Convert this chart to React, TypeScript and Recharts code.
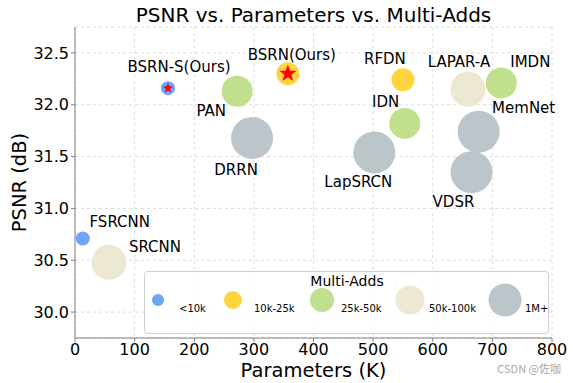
import React from 'react';
import { ScatterChart, Scatter, XAxis, YAxis, CartesianGrid, Label } from 'recharts';

const models = ['FSRCNN', 'SRCNN', 'BSRN-S(Ours)', 'PAN', 'DRRN', 'BSRN(Ours)', 'LapSRCN', 'RFDN', 'IDN', 'LAPAR-A', 'VDSR', 'MemNet', 'IMDN'];
const params = [13, 57, 156, 272, 297, 357, 502, 550, 553, 659, 665, 677, 715];
const psnr = [30.71, 30.48, 32.16, 32.13, 31.68, 32.3, 31.54, 32.24, 31.82, 32.15, 31.35, 31.74, 32.21];
const multiAdds = ['<10k', '50k-100k', '<10k', '25k-50k', '1M+', '10k-25k', '1M+', '10k-25k', '25k-50k', '50k-100k', '1M+', '1M+', '25k-50k'];
const groups = ['<10k', '10k-25k', '25k-50k', '50k-100k', '1M+'];
const xTicks = [0, 100, 200, 300, 400, 500, 600, 700, 800];
const yTicks = [30, 30.5, 31, 31.5, 32, 32.5];

const FONT = '"DejaVu Sans", sans-serif';

const colors: Record<string, string> = {
  '<10k': '#6ea6f7',
  '10k-25k': '#ffd43e',
  '25k-50k': '#c1e08d',
  '50k-100k': '#ece8d2',
  '1M+': '#bcc5ca',
};
const radius: Record<string, number> = {
  '<10k': 7,
  '10k-25k': 11.5,
  '25k-50k': 15.5,
  '50k-100k': 17.5,
  '1M+': 21,
};
const legendRadius: Record<string, number> = {
  '<10k': 6,
  '10k-25k': 9,
  '25k-50k': 12,
  '50k-100k': 14.5,
  '1M+': 16.5,
};

// where each name sits relative to its bubble
const labelOffset: Record<string, [number, number]> = {
  'FSRCNN': [37, -16],
  'SRCNN': [46, -15],
  'BSRN-S(Ours)': [11, -21],
  'PAN': [-26, 20],
  'DRRN': [-16, 32],
  'BSRN(Ours)': [4, -19],
  'LapSRCN': [-16, 30],
  'RFDN': [-18, -21],
  'IDN': [-19, -21],
  'LAPAR-A': [-9, -27],
  'VDSR': [-18, 30],
  'MemNet': [45, -24],
  'IMDN': [29, -21],
};

const points = models.map((name, i) => ({ name, params: params[i], psnr: psnr[i], group: multiAdds[i] }));

function starPath(cx: number, cy: number, R: number) {
  const r = R * 0.4;
  let d = '';
  for (let k = 0; k < 10; k++) {
    const a = -Math.PI / 2 + (k * Math.PI) / 5;
    const rr = k % 2 === 0 ? R : r;
    d += (k === 0 ? 'M' : 'L') + (cx + rr * Math.cos(a)).toFixed(2) + ',' + (cy + rr * Math.sin(a)).toFixed(2);
  }
  return d + 'Z';
}

const Bubble = (props: any) => {
  const { cx, cy, payload } = props;
  const r = radius[payload.group];
  const ours = payload.name.includes('Ours');
  return (
    <g>
      <circle cx={cx} cy={cy} r={r} fill={colors[payload.group]} />
      {ours && <path d={starPath(cx, cy, r * 0.8)} fill="#ff0000" />}
    </g>
  );
};

const NameLabel = (props: any) => {
  const { cx, cy, payload } = props;
  const [dx, dy] = labelOffset[payload.name] || [0, -20];
  return (
    <text x={cx + dx} y={cy + dy} textAnchor="middle" dominantBaseline="central" fontSize={15} fontFamily={FONT} fill="#000">
      {payload.name}
    </text>
  );
};

const LegendBox = () => {
  const cxs = [14, 89, 178, 266, 361];
  const lxs = [35, 110, 197, 285, 381];
  return (
    <svg width={405} height={63} style={{ display: 'block' }}>
      <rect x={0.5} y={0.5} width={404} height={62} rx={3} fill="#ffffff" fillOpacity={0.85} stroke="#cfcfcf" />
      <text x={203} y={10} textAnchor="middle" dominantBaseline="central" fontSize={14} fontFamily={FONT} fill="#000">
        Multi-Adds
      </text>
      {groups.map((g, i) => (
        <g key={g}>
          <circle cx={cxs[i]} cy={29} r={legendRadius[g]} fill={colors[g]} />
          <text x={lxs[i]} y={37} dominantBaseline="central" fontSize={10} fontFamily={FONT} fill="#000">
            {g}
          </text>
        </g>
      ))}
    </svg>
  );
};

export default function App() {
  return (
    <div style={{ position: 'absolute', left: 0, top: 0, width: 573, height: 383, background: '#fff' }}>
      <div
        style={{
          position: 'absolute',
          left: 0,
          width: 627,
          top: 3,
          textAlign: 'center',
          fontFamily: FONT,
          fontSize: 20,
          color: '#000',
        }}
      >
        PSNR vs. Parameters vs. Multi-Adds
      </div>
      <ScatterChart width={573} height={383} margin={{ top: 27, right: 21, left: 0, bottom: 0 }}>
        <CartesianGrid stroke="#dcdcdc" strokeDasharray="3 3" />
        <XAxis
          type="number"
          dataKey="params"
          domain={[0, 800]}
          ticks={xTicks}
          height={45}
          stroke="#808080"
          tickSize={4}
          tick={{ fill: '#000', fontSize: 16, fontFamily: FONT }}
          interval={0}
        >
          <Label
            content={(p: any) => (
              <text
                x={p.viewBox.x + p.viewBox.width / 2}
                y={370}
                textAnchor="middle"
                dominantBaseline="central"
                fontSize={19.5}
                fontFamily={FONT}
                fill="#000"
              >
                Parameters (K)
              </text>
            )}
          />
        </XAxis>
        <XAxis xAxisId="top" type="number" orientation="top" domain={[0, 800]} height={0} tick={false} tickLine={false} stroke="#808080" />
        <YAxis
          type="number"
          dataKey="psnr"
          domain={[29.75, 32.75]}
          ticks={yTicks}
          width={75}
          stroke="#808080"
          tickSize={4}
          tickFormatter={(v: number) => v.toFixed(1)}
          tick={{ fill: '#000', fontSize: 16, fontFamily: FONT }}
          interval={0}
          allowDataOverflow
        >
          <Label
            content={(p: any) => {
              const y = p.viewBox.y + p.viewBox.height / 2;
              return (
                <text
                  x={19}
                  y={y}
                  transform={`rotate(-90 19 ${y})`}
                  textAnchor="middle"
                  dominantBaseline="central"
                  fontSize={19.5}
                  fontFamily={FONT}
                  fill="#000"
                >
                  PSNR (dB)
                </text>
              );
            }}
          />
        </YAxis>
        <YAxis yAxisId="right" type="number" orientation="right" domain={[29.75, 32.75]} width={0} tick={false} tickLine={false} stroke="#808080" />
        {groups.map((g) => (
          <Scatter
            key={g}
            name={g}
            data={points.filter((p) => p.group === g)}
            fill={colors[g]}
            shape={Bubble}
            isAnimationActive={false}
          />
        ))}
        <Scatter data={points} shape={NameLabel} isAnimationActive={false} legendType="none" />
      </ScatterChart>
      <div style={{ position: 'absolute', left: 144, top: 271 }}>
        <LegendBox />
      </div>
      <div
        style={{
          position: 'absolute',
          right: 12,
          top: 360,
          fontFamily: '"Noto Sans CJK SC", sans-serif',
          fontSize: 11,
          color: '#a8a8a8',
        }}
      >
        CSDN @佐咖
      </div>
    </div>
  );
}
